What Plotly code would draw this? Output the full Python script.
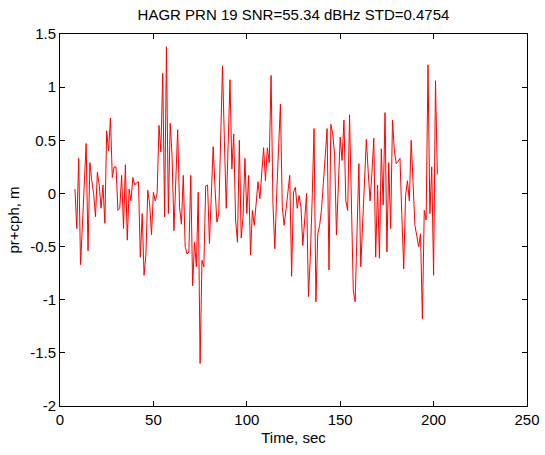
import plotly.graph_objects as go

t_start = 8
values = [
    # t = 8 .. 32
    0.04, -0.33, 0.33, -0.67, -0.3, 0.1, 0.47, -0.54, 0.29, 0.12,
    0.0, -0.22, 0.2, 0.08, -0.14, 0.08, -0.28, 0.59, 0.4, 0.71,
    0.15, 0.25, 0.25, -0.16, -0.14,
    # t = 33 .. 57
    0.17, -0.33, 0.27, -0.44, 0.04, -0.07, 0.15, 0.08, 0.1, 0.11,
    -0.6, -0.19, -0.77, -0.57, 0.03, -0.1, -0.39, 0.01, -0.07, 0.0,
    0.64, 0.39, 1.13, -0.22, 1.38,
    # t = 58 .. 82
    -0.19, 0.66, 0.35, -0.35, 0.1, 0.6, -0.13, -0.29, 0.17, -0.5,
    -0.57, -0.55, 0.17, -0.87, -0.46, -0.69, 0.01, -1.6, -0.63, -0.69,
    0.07, 0.08, -0.47, 0.0, 0.44,
    # t = 83 .. 106
    0.05, -0.27, -0.19, 0.5, 1.2, 0.5, -0.14, 0.45, 1.07, 0.23,
    0.56, -0.25, -0.46, 0.5, -0.42, -0.22, 0.33, -0.19, 0.17, -0.58,
    -0.16, -0.3, -0.1, 0.11,
    # t = 107 .. 130
    -0.05, 0.2, 0.43, 0.12, 0.43, 0.29, 1.11, -0.1, -0.52, 0.0,
    0.45, 0.84, -0.13, -0.3, -0.15, 0.0, 0.17, -0.78, 0.01, 0.06,
    -0.14, -0.02, -0.13, -0.49,
    # t = 131 .. 155
    -0.2, 0.0, -0.97, -0.6, -0.05, 0.61, -1.02, -0.38, -0.3, -0.15,
    0.1, 0.35, 0.61, -0.72, 0.65, 0.56, 0.37, -0.39, 0.0, 0.53,
    0.31, 0.69, -0.07, -0.16, 0.74,
    # t = 156 .. 178
    -0.1, -0.91, -1.02, -0.35, 0.28, -0.69, -0.3, 0.1, 0.51, 0.2,
    -0.07, 0.2, 0.52, -0.6, 0.08, -0.61, 0.42, -0.11, 0.76, -0.55,
    0.29, -0.33, 0.69,
    # t = 179 .. 202
    0.4, 0.28, 0.3, 0.33, -0.2, -0.71, -0.02, 0.12, -0.07, 0.5,
    0.1, -0.3, -0.4, -0.5, -0.38, -1.18, -0.16, -0.25, 1.21, -0.19,
    0.25, -0.77, 1.06, 0.18,
]
time = [t_start + i for i in range(len(values))]

x_ticks = [0, 50, 100, 150, 200, 250]
y_ticks = [-2, -1.5, -1, -0.5, 0, 0.5, 1, 1.5]
y_tick_text = ["-2", "-1.5", "-1", "-0.5", "0", "0.5", "1", "1.5"]

title_text = "HAGR PRN 19 SNR=55.34 dBHz STD=0.4754"
x_title = "Time, sec"
y_title = "pr+cph, m"

family = "Liberation Sans, Arial, sans-serif"
tick_font = dict(family=family, size=15, color="black")

fig = go.Figure()
fig.add_trace(go.Scatter(x=time, y=values, mode="lines",
                         line=dict(color="#ff0000", width=1), showlegend=False,
                         hoverinfo="skip"))

axis_common = dict(showline=True, linecolor="black", linewidth=1, mirror="ticks",
                   ticks="inside", ticklen=5, tickcolor="black", tickwidth=1,
                   showgrid=False, zeroline=False, tickfont=tick_font,
                   automargin=False)

fig.update_layout(
    width=545, height=455,
    margin=dict(l=60, r=18, t=34, b=49),
    paper_bgcolor="white", plot_bgcolor="white",
    font=dict(family=family, size=15, color="black"),
    title=dict(text=title_text, x=0.5, xanchor="center", xref="paper",
               y=1, yref="paper", yanchor="bottom", pad=dict(b=14),
               font=dict(family=family, size=15, color="black")),
    xaxis=dict(range=[0, 250], tickvals=x_ticks, ticktext=[str(v) for v in x_ticks],
               title=dict(text=x_title, standoff=5, font=dict(family=family, size=15)),
               **axis_common),
    yaxis=dict(range=[-2, 1.5], tickvals=y_ticks, ticktext=y_tick_text,
               title=dict(text=y_title, standoff=6, font=dict(family=family, size=15)),
               **axis_common),
)

# remove the default 8px page margin so the figure fills the window exactly
fig.write_html("out.html",
               config={"displayModeBar": False, "staticPlot": True},
               post_script="document.body.style.margin='0';document.body.style.overflow='hidden';")
